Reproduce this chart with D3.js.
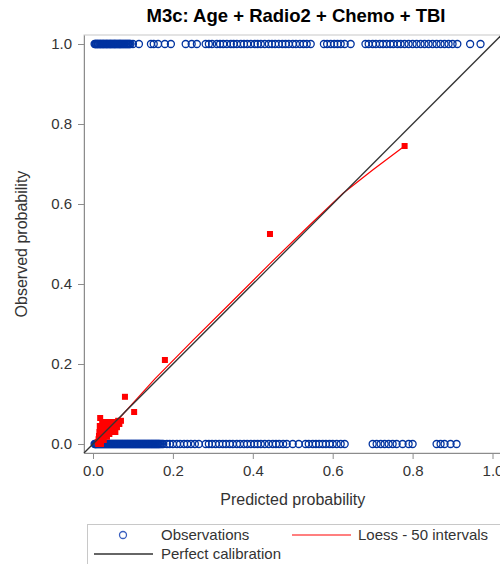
<!DOCTYPE html>
<html>
<head>
<meta charset="utf-8">
<script src="https://cdn.jsdelivr.net/npm/d3@7"></script>
<style>
  html, body { margin: 0; padding: 0; background: #fff; }
  svg { display: block; font-family: "Liberation Sans", Arial, sans-serif; }
</style>
</head>
<body>
<svg id="chart" width="500" height="564"></svg>
<script>
// Calibration plot: observed outcomes vs predicted probability
const titleText = "M3c: Age + Radio2 + Chemo + TBI";
const xLabel = "Predicted probability";
const yLabel = "Observed probability";
const tickValues = [0, 0.2, 0.4, 0.6, 0.8, 1.0];

// Predicted probabilities of subjects with the event (observed = 1)
const eventPred = [
  0.004, 0.006, 0.007, 0.009, 0.011, 0.012, 0.014, 0.016, 0.018, 0.019,
  0.021, 0.023, 0.025, 0.026, 0.028, 0.030, 0.032, 0.034, 0.035, 0.037,
  0.039, 0.041, 0.043, 0.044, 0.046, 0.048, 0.050, 0.052, 0.054, 0.055,
  0.057, 0.059, 0.061, 0.063, 0.065, 0.067, 0.068, 0.070, 0.072, 0.074,
  0.076, 0.078, 0.080, 0.082, 0.084, 0.086, 0.088, 0.090, 0.092, 0.094,
  0.100, 0.115,
  0.145, 0.152, 0.163, 0.180, 0.195,
  0.232, 0.247, 0.260,
  0.282, 0.290, 0.298, 0.310, 0.318, 0.326, 0.335, 0.345, 0.352, 0.360,
  0.370, 0.378, 0.386, 0.395, 0.405, 0.412, 0.420, 0.430, 0.440, 0.448,
  0.456, 0.465, 0.474, 0.482, 0.490, 0.500, 0.508, 0.518, 0.527, 0.535,
  0.545, 0.578, 0.586, 0.595, 0.604, 0.612, 0.620, 0.630, 0.645,
  0.682, 0.690, 0.700, 0.708, 0.718, 0.726, 0.735, 0.744, 0.752, 0.762,
  0.770, 0.780, 0.790, 0.800, 0.810, 0.820, 0.830, 0.840, 0.850, 0.860,
  0.870, 0.880, 0.890, 0.900, 0.912, 0.944, 0.970
];

// Predicted probabilities of subjects without the event (observed = 0)
const noEventPred = [
  0.004, 0.006, 0.007, 0.009, 0.011, 0.013, 0.015, 0.017, 0.019, 0.021,
  0.023, 0.025, 0.027, 0.029, 0.031, 0.033, 0.035, 0.037, 0.039, 0.041,
  0.043, 0.045, 0.047, 0.049, 0.051, 0.053, 0.055, 0.057, 0.059, 0.061,
  0.063, 0.065, 0.067, 0.069, 0.071, 0.073, 0.075, 0.077, 0.079, 0.081,
  0.083, 0.085, 0.087, 0.089, 0.091, 0.093, 0.095, 0.097, 0.099, 0.101,
  0.103, 0.105, 0.107, 0.109, 0.111, 0.113, 0.115, 0.117, 0.119, 0.121,
  0.123, 0.125, 0.127, 0.129, 0.131, 0.133, 0.135, 0.137, 0.139, 0.141,
  0.143, 0.145, 0.147, 0.149, 0.151, 0.153, 0.155, 0.157, 0.159, 0.161,
  0.163, 0.165, 0.167, 0.170, 0.173, 0.176,
  0.185, 0.192, 0.200, 0.210, 0.218, 0.228, 0.236, 0.245, 0.255, 0.265,
  0.282, 0.290, 0.298, 0.307, 0.316, 0.325, 0.333, 0.342, 0.350, 0.360, 0.368,
  0.378, 0.386, 0.395, 0.404, 0.412, 0.420, 0.430, 0.440, 0.450, 0.458,
  0.466, 0.476, 0.485,
  0.500, 0.515,
  0.532, 0.540, 0.550, 0.558, 0.566, 0.575, 0.583, 0.592, 0.600, 0.610,
  0.620, 0.630,
  0.700, 0.710, 0.720, 0.730, 0.740, 0.750, 0.760, 0.775, 0.790, 0.800,
  0.860, 0.870, 0.880, 0.895, 0.910
];

// Grouped (50 intervals) mean predicted vs observed proportion
const groupPred = [
  0.780, 0.443, 0.180, 0.103, 0.080,
  0.012, 0.014, 0.015, 0.016, 0.017, 0.018, 0.019, 0.020, 0.021, 0.022,
  0.023, 0.024, 0.025, 0.026, 0.027, 0.028, 0.029, 0.030, 0.031, 0.032,
  0.033, 0.034, 0.035, 0.036, 0.038, 0.040, 0.041, 0.043, 0.045, 0.046,
  0.048, 0.050, 0.052, 0.054, 0.056, 0.058, 0.060, 0.063, 0.066, 0.070,
  0.013, 0.017, 0.020
];
const groupObs = [
  0.745, 0.525, 0.210, 0.080, 0.118,
  0.005, 0.012, 0.020, 0.030, 0.045, 0.065, 0.008, 0.025, 0.040, 0.015,
  0.050, 0.032, 0.020, 0.045, 0.010, 0.038, 0.055, 0.025, 0.048, 0.030,
  0.040, 0.055, 0.018, 0.045, 0.035, 0.050, 0.025, 0.055, 0.040, 0.030,
  0.050, 0.038, 0.055, 0.045, 0.030, 0.055, 0.042, 0.058, 0.050, 0.058,
  0.000, 0.002, 0.000
];

// Loess smooth through the grouped estimates
const loessPred = [0.012, 0.020, 0.030, 0.040, 0.050, 0.060, 0.080, 0.100, 0.155, 0.250, 0.350, 0.443, 0.540, 0.626, 0.700, 0.780];
const loessObs  = [0.010, 0.018, 0.028, 0.038, 0.048, 0.058, 0.080, 0.102, 0.163, 0.259, 0.358, 0.451, 0.545, 0.627, 0.685, 0.745];

const svg = d3.select("#chart");
const plotL = 84, plotR = 501.5, plotT = 35, plotB = 453;
const dom = [-0.0225, 1.0225];
const x = d3.scaleLinear().domain(dom).range([plotL, plotR]);
const y = d3.scaleLinear().domain(dom).range([plotB, plotT]);

const axisColor = "#8c8c8c";
const textColor = "#333";

// Title
svg.append("text")
  .attr("x", 296).attr("y", 22)
  .attr("text-anchor", "middle")
  .attr("font-size", 18.5).attr("font-weight", "bold")
  .attr("fill", "#000")
  .text(titleText);

// Plot frame
svg.append("rect")
  .attr("x", plotL).attr("y", plotT)
  .attr("width", plotR - plotL).attr("height", plotB - plotT)
  .attr("fill", "none").attr("stroke", "#c8c8c8");

// Axes
const fmt = d3.format(".1f");
const gx = svg.append("g").attr("transform", `translate(0,${plotB})`)
  .call(d3.axisBottom(x).tickValues(tickValues).tickFormat(fmt).tickSize(6).tickPadding(6).tickSizeOuter(0));
const gy = svg.append("g").attr("transform", `translate(${plotL},0)`)
  .call(d3.axisLeft(y).tickValues(tickValues).tickFormat(fmt).tickSize(6).tickPadding(6).tickSizeOuter(0));
[gx, gy].forEach(g => {
  g.select(".domain").attr("stroke", axisColor);
  g.selectAll(".tick line").attr("stroke", axisColor);
  g.selectAll(".tick text").attr("fill", textColor).attr("font-size", 15)
    .attr("font-family", "Liberation Sans, Arial, sans-serif");
});

// Axis labels
svg.append("text")
  .attr("x", (plotL + plotR) / 2).attr("y", 505)
  .attr("text-anchor", "middle").attr("font-size", 16).attr("fill", textColor)
  .text(xLabel);
svg.append("text")
  .attr("transform", `translate(27,${(plotT + plotB) / 2}) rotate(-90)`)
  .attr("text-anchor", "middle").attr("font-size", 16).attr("fill", textColor)
  .text(yLabel);

const blue = "#0033a0";
const red = "#ff0000";

// Observations
const obsG = svg.append("g").attr("fill", "none").attr("stroke", blue).attr("stroke-width", 1.3);
obsG.selectAll("circle.ev").data(eventPred).join("circle")
  .attr("class", "ev").attr("cx", d => x(d)).attr("cy", y(1)).attr("r", 3.5);
obsG.selectAll("circle.ne").data(noEventPred).join("circle")
  .attr("class", "ne").attr("cx", d => x(d)).attr("cy", y(0)).attr("r", 3.5);

// Grouped estimates
svg.append("g").selectAll("rect").data(groupPred.map((p, i) => [p, groupObs[i]])).join("rect")
  .attr("x", d => x(d[0]) - 3).attr("y", d => y(d[1]) - 3)
  .attr("width", 6).attr("height", 6).attr("fill", red);

// Loess curve
const line = d3.line().x(d => x(d[0])).y(d => y(d[1]));
svg.append("path")
  .datum(loessPred.map((p, i) => [p, loessObs[i]]))
  .attr("d", line).attr("fill", "none").attr("stroke", red).attr("stroke-width", 1.2);

// Perfect calibration
svg.append("path")
  .datum([[dom[0], dom[0]], [dom[1], dom[1]]])
  .attr("d", line).attr("fill", "none").attr("stroke", "#333").attr("stroke-width", 1.3);

// Legend
const lg = svg.append("g");
lg.append("rect").attr("x", 87.5).attr("y", 524.5).attr("width", 430).attr("height", 50)
  .attr("fill", "none").attr("stroke", "#c8c8c8");
lg.append("circle").attr("cx", 123).attr("cy", 535).attr("r", 3.5)
  .attr("fill", "none").attr("stroke", "#3a5fbf").attr("stroke-width", 1.3);
lg.append("text").attr("x", 161).attr("y", 540).attr("font-size", 15).attr("fill", textColor).text("Observations");
lg.append("line").attr("x1", 292).attr("x2", 351).attr("y1", 535).attr("y2", 535)
  .attr("stroke", red).attr("stroke-width", 1.2);
lg.append("text").attr("x", 358).attr("y", 540).attr("font-size", 15).attr("fill", textColor).text("Loess - 50 intervals");
lg.append("line").attr("x1", 94).attr("x2", 153).attr("y1", 554).attr("y2", 554)
  .attr("stroke", "#333").attr("stroke-width", 1.3);
lg.append("text").attr("x", 161).attr("y", 559).attr("font-size", 15).attr("fill", textColor).text("Perfect calibration");
</script>
</body>
</html>
